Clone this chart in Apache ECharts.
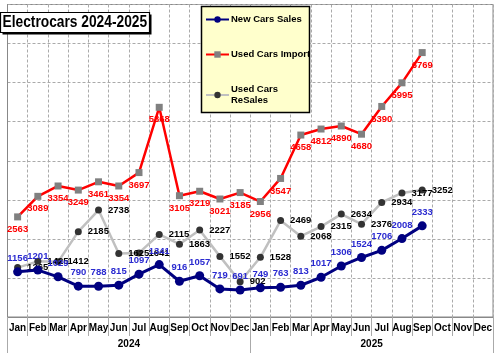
<!DOCTYPE html>
<html>
<head>
<meta charset="utf-8">
<script src="https://cdn.jsdelivr.net/npm/echarts@6/dist/echarts.min.js"></script>
<style>html,body{margin:0;padding:0;background:#fff}#c{width:496px;height:353px}</style>
</head>
<body>
<div id="c"></div>
<script>
const months = ['Jan','Feb','Mar','Apr','May','Jun','Jul','Aug','Sep','Oct','Nov','Dec','Jan','Feb','Mar','Apr','May','Jun','Jul','Aug','Sep','Oct','Nov','Dec'];
const years = ['2024','2025'];
const newCars = [1156,1201,1029,790,788,815,1097,1341,916,1057,719,691,749,763,813,1017,1306,1524,1706,2008,2333];
const usedImport = [2563,3089,3354,3249,3461,3354,3697,5368,3105,3219,3021,3185,2956,3547,4658,4812,4890,4680,5390,5995,6769];
const usedResales = [1265,1425,1412,2185,2738,1625,1641,2115,1863,2227,1552,902,1528,2469,2068,2315,2634,2376,2934,3177,3252];
const seriesNames = ['New Cars Sales','Used Cars Import','Used Cars\nReSales'];
const titleText = 'Electrocars 2024-2025';

const FONT = '"Liberation Sans", Arial, sans-serif';
const chart = echarts.init(document.getElementById('c'), null, {renderer:'canvas'});
const lblFont = {fontFamily: FONT, fontWeight: 'bold', fontSize: 9.5};
chart.setOption({
  animation: false,
  backgroundColor: '#fff',
  grid: {left: 7.5, right: 3, top: 4.5, bottom: 36, show: true, borderColor: '#888', borderWidth: 1},
  graphic: [
    {type:'rect', z: 10, shape:{x:2.5, y:14.5, width:149, height:20}, style:{fill:'#000'}},
    {type:'rect', z: 11, shape:{x:0.5, y:12.5, width:149, height:20}, style:{fill:'#fff', stroke:'#000', lineWidth:1.2}},
    {type:'text', z: 12, x: 2.5, y: 23, scaleX: 0.86,
      style:{text: titleText, font: 'bold 16px ' + FONT, fill:'#000', verticalAlign:'middle', align:'left'}},
    {type:'rect', z: 3, shape:{x:201.5, y:6.5, width:108, height:106}, style:{fill:'#ffffcc', stroke:'#000', lineWidth:1.5}}
  ],
  legend: {
    z: 5,
    orient: 'vertical', left: 203, top: 7, padding: [7, 3, 7, 2],
    itemGap: 24, itemWidth: 23, itemHeight: 8,
    data: seriesNames,
    textStyle: {fontFamily: FONT, fontWeight: 'bold', fontSize: 9.5, color: '#000', lineHeight: 11, padding: [0, 0, 0, -3]}
  },
  xAxis: [
    {type: 'category', data: months, position: 'bottom', boundaryGap: true,
      axisLine: {show: true, lineStyle: {color: '#888', width: 1}},
      axisTick: {show: true, interval: 0, length: 19, lineStyle: {color: '#aaa'}},
      axisLabel: {interval: 0, margin: 6, fontFamily: FONT, fontWeight: 'bold', fontSize: 10, color: '#000'},
      splitLine: {show: true, interval: 0, lineStyle: {color: '#aaa', type: [3, 2]}}
    },
    {type: 'category', data: years, position: 'bottom', boundaryGap: true,
      axisLine: {show: false},
      axisTick: {show: true, interval: 0, length: 36, lineStyle: {color: '#aaa'}},
      axisLabel: {interval: 0, margin: 22, fontFamily: FONT, fontWeight: 'bold', fontSize: 10, color: '#000'},
      splitLine: {show: false}
    }
  ],
  yAxis: {type: 'value', min: 0, max: 8000, interval: 1000,
    axisLine: {show: true, lineStyle: {color: '#888'}},
    axisTick: {show: false}, axisLabel: {show: false},
    splitLine: {show: true, lineStyle: {color: '#aaa', type: [3, 2]}}
  },
  series: [
    {name: seriesNames[0], type: 'line', data: newCars, z: 4,
      symbol: 'circle', symbolSize: 9,
      itemStyle: {color: '#000080'}, lineStyle: {color: '#000080', width: 3},
      label: {show: true, position: 'top', distance: 4, color: '#2a2ad0', ...lblFont}
    },
    {name: seriesNames[1], type: 'line', data: usedImport, z: 3,
      symbol: 'rect', symbolSize: 7,
      itemStyle: {color: '#808080'}, lineStyle: {color: '#ff0000', width: 2.5},
      label: {show: true, position: 'bottom', distance: 4, color: '#ff0000', ...lblFont}
    },
    {name: seriesNames[2], type: 'line', data: usedResales, z: 2,
      symbol: 'circle', symbolSize: 7,
      itemStyle: {color: '#333333'}, lineStyle: {color: '#c0c0c0', width: 2.5},
      label: {show: true, position: 'right', distance: 6, color: '#000', ...lblFont}
    }
  ]
});
</script>
</body>
</html>
